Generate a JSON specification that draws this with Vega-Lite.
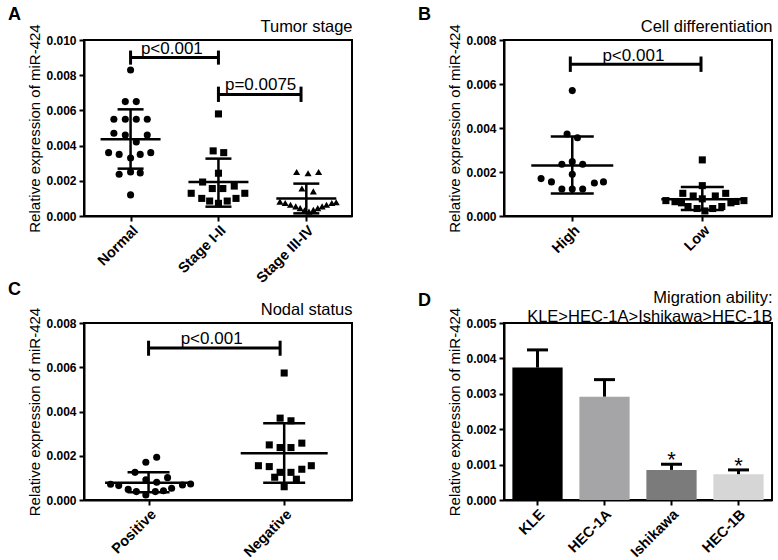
{
  "$schema": "https://vega.github.io/schema/vega-lite/v6.json",
  "padding": {"left": 7, "top": 5, "right": 5, "bottom": 3},
  "config": {
    "font": "Liberation Sans",
    "view": {"stroke": "black", "strokeWidth": 2},
    "axis": {"domainColor": "black", "domainWidth": 2, "tickColor": "black", "tickWidth": 2, "labelColor": "black", "titleColor": "black", "grid": false},
    "axisX": {"labelAngle": -45, "labelFontSize": 14.5, "labelFontWeight": "bold", "tickSize": 5, "labelPadding": 2},
    "title": {"fontSize": 18, "fontWeight": "bold", "anchor": "start", "frame": "group", "color": "black"}
  },
  "resolve": {"scale": {"shape": "independent", "color": "independent"}},
  "datasets": {
    "ptsA": [
      {"g": "Normal", "x": 1.0, "v": 0.0083},
      {"g": "Normal", "x": 0.94, "v": 0.0065},
      {"g": "Normal", "x": 1.065, "v": 0.0065},
      {"g": "Normal", "x": 0.81, "v": 0.0055},
      {"g": "Normal", "x": 0.94, "v": 0.0055},
      {"g": "Normal", "x": 1.065, "v": 0.0055},
      {"g": "Normal", "x": 1.19, "v": 0.0055},
      {"g": "Normal", "x": 0.81, "v": 0.0047},
      {"g": "Normal", "x": 0.94, "v": 0.0046},
      {"g": "Normal", "x": 1.065, "v": 0.0042},
      {"g": "Normal", "x": 1.19, "v": 0.0046},
      {"g": "Normal", "x": 0.75, "v": 0.0036},
      {"g": "Normal", "x": 0.87, "v": 0.0035},
      {"g": "Normal", "x": 1.11, "v": 0.0035},
      {"g": "Normal", "x": 1.23, "v": 0.0036},
      {"g": "Normal", "x": 1.0, "v": 0.0033},
      {"g": "Normal", "x": 0.87, "v": 0.00237},
      {"g": "Normal", "x": 1.0, "v": 0.0025},
      {"g": "Normal", "x": 1.11, "v": 0.00245},
      {"g": "Normal", "x": 1.0, "v": 0.0012},
      {"g": "Stage I-II", "x": 2.0, "v": 0.0058},
      {"g": "Stage I-II", "x": 1.94, "v": 0.0037},
      {"g": "Stage I-II", "x": 2.06, "v": 0.0036},
      {"g": "Stage I-II", "x": 2.0, "v": 0.00243},
      {"g": "Stage I-II", "x": 1.82, "v": 0.00193},
      {"g": "Stage I-II", "x": 2.18, "v": 0.0017},
      {"g": "Stage I-II", "x": 1.93, "v": 0.00156},
      {"g": "Stage I-II", "x": 2.05, "v": 0.00156},
      {"g": "Stage I-II", "x": 1.69, "v": 0.00129},
      {"g": "Stage I-II", "x": 1.81, "v": 0.001},
      {"g": "Stage I-II", "x": 1.9, "v": 0.00085},
      {"g": "Stage I-II", "x": 2.0, "v": 0.00072},
      {"g": "Stage I-II", "x": 2.1, "v": 0.00085},
      {"g": "Stage I-II", "x": 2.2, "v": 0.001},
      {"g": "Stage I-II", "x": 2.3, "v": 0.00129},
      {"g": "Stage III-IV", "x": 2.89, "v": 0.0025},
      {"g": "Stage III-IV", "x": 3.02, "v": 0.00243},
      {"g": "Stage III-IV", "x": 3.14, "v": 0.0025},
      {"g": "Stage III-IV", "x": 2.95, "v": 0.00156},
      {"g": "Stage III-IV", "x": 3.08, "v": 0.0014},
      {"g": "Stage III-IV", "x": 2.7, "v": 0.00082},
      {"g": "Stage III-IV", "x": 2.76, "v": 0.00074},
      {"g": "Stage III-IV", "x": 2.82, "v": 0.00064},
      {"g": "Stage III-IV", "x": 2.88, "v": 0.00055},
      {"g": "Stage III-IV", "x": 2.93, "v": 0.00045},
      {"g": "Stage III-IV", "x": 2.98, "v": 0.00033},
      {"g": "Stage III-IV", "x": 3.03, "v": 0.00025},
      {"g": "Stage III-IV", "x": 3.08, "v": 0.00035},
      {"g": "Stage III-IV", "x": 3.13, "v": 0.00045},
      {"g": "Stage III-IV", "x": 3.18, "v": 0.00055},
      {"g": "Stage III-IV", "x": 3.23, "v": 0.00064},
      {"g": "Stage III-IV", "x": 3.29, "v": 0.00074},
      {"g": "Stage III-IV", "x": 3.34, "v": 0.00078}
    ],
    "sumA": [
      {"x": 1, "mean": 0.00436, "lo": 0.00269, "hi": 0.00606},
      {"x": 2, "mean": 0.00193, "lo": 0.00053, "hi": 0.00326},
      {"x": 3, "mean": 0.00099, "lo": 0.00015, "hi": 0.00184}
    ],
    "brA": [{"x1": 1, "x2": 2, "y": 0.009}, {"x1": 2, "x2": 2.94, "y": 0.0069}],
    "capA": [
      {"x": 1, "lo": 0.0086, "hi": 0.0094},
      {"x": 2, "lo": 0.0086, "hi": 0.0094},
      {"x": 2, "lo": 0.00648, "hi": 0.00735},
      {"x": 2.94, "lo": 0.00648, "hi": 0.00735}
    ],
    "labA": [{"x": 1.47, "y": 0.00919, "label": "p<0.001"}, {"x": 2.48, "y": 0.00716, "label": "p=0.0075"}],
    "ptsB": [
      {"g": "High", "x": 1.0, "v": 0.0057},
      {"g": "High", "x": 0.96, "v": 0.00373},
      {"g": "High", "x": 1.04, "v": 0.00356},
      {"g": "High", "x": 0.92, "v": 0.00235},
      {"g": "High", "x": 1.0, "v": 0.00247},
      {"g": "High", "x": 1.08, "v": 0.00235},
      {"g": "High", "x": 1.0, "v": 0.0019},
      {"g": "High", "x": 0.76, "v": 0.0017},
      {"g": "High", "x": 0.84, "v": 0.00155},
      {"g": "High", "x": 1.17, "v": 0.0015},
      {"g": "High", "x": 1.24, "v": 0.00155},
      {"g": "High", "x": 0.92, "v": 0.00123},
      {"g": "High", "x": 1.0, "v": 0.00123},
      {"g": "High", "x": 1.08, "v": 0.00123},
      {"g": "Low", "x": 2.0, "v": 0.00255},
      {"g": "Low", "x": 2.0, "v": 0.00138},
      {"g": "Low", "x": 1.85, "v": 0.00103},
      {"g": "Low", "x": 1.93, "v": 0.00091},
      {"g": "Low", "x": 2.1, "v": 0.00091},
      {"g": "Low", "x": 2.18, "v": 0.00103},
      {"g": "Low", "x": 2.0, "v": 0.00078},
      {"g": "Low", "x": 1.72, "v": 0.0007},
      {"g": "Low", "x": 1.79, "v": 0.00065},
      {"g": "Low", "x": 1.84, "v": 0.0006},
      {"g": "Low", "x": 2.22, "v": 0.0006},
      {"g": "Low", "x": 2.26, "v": 0.00066},
      {"g": "Low", "x": 2.32, "v": 0.0007},
      {"g": "Low", "x": 1.89, "v": 0.00043},
      {"g": "Low", "x": 1.96, "v": 0.00034},
      {"g": "Low", "x": 2.02, "v": 0.00023},
      {"g": "Low", "x": 2.08, "v": 0.00034},
      {"g": "Low", "x": 2.15, "v": 0.00043}
    ],
    "sumB": [
      {"x": 1, "mean": 0.0023, "lo": 0.00102, "hi": 0.00361},
      {"x": 2, "mean": 0.00076, "lo": 0.00027, "hi": 0.00132}
    ],
    "brB": [{"x1": 0.985, "x2": 1.99, "y": 0.0069}],
    "capB": [{"x": 0.985, "lo": 0.00655, "hi": 0.00725}, {"x": 1.99, "lo": 0.00655, "hi": 0.00725}],
    "labB": [{"x": 1.47, "y": 0.00705, "label": "p<0.001"}],
    "ptsC": [
      {"g": "Positive", "x": 1.06, "v": 0.00193},
      {"g": "Positive", "x": 0.98, "v": 0.00171},
      {"g": "Positive", "x": 0.9, "v": 0.00125},
      {"g": "Positive", "x": 0.98, "v": 0.00091},
      {"g": "Positive", "x": 1.14, "v": 0.00101},
      {"g": "Positive", "x": 1.06, "v": 0.0008},
      {"g": "Positive", "x": 0.72, "v": 0.00071},
      {"g": "Positive", "x": 0.78, "v": 0.00065},
      {"g": "Positive", "x": 1.25, "v": 0.00068},
      {"g": "Positive", "x": 1.31, "v": 0.00072},
      {"g": "Positive", "x": 0.85, "v": 0.00048},
      {"g": "Positive", "x": 0.91, "v": 0.00038},
      {"g": "Positive", "x": 0.98, "v": 0.00023},
      {"g": "Positive", "x": 1.05, "v": 0.00038},
      {"g": "Positive", "x": 1.11, "v": 0.00042},
      {"g": "Positive", "x": 1.17, "v": 0.00053},
      {"g": "Negative", "x": 2.0, "v": 0.00574},
      {"g": "Negative", "x": 1.97, "v": 0.0037},
      {"g": "Negative", "x": 2.05, "v": 0.00358},
      {"g": "Negative", "x": 1.89, "v": 0.00249},
      {"g": "Negative", "x": 1.97, "v": 0.00237},
      {"g": "Negative", "x": 2.05, "v": 0.00237},
      {"g": "Negative", "x": 2.13, "v": 0.00257},
      {"g": "Negative", "x": 1.81, "v": 0.00155},
      {"g": "Negative", "x": 1.89, "v": 0.00151},
      {"g": "Negative", "x": 2.13, "v": 0.00139},
      {"g": "Negative", "x": 2.2, "v": 0.00155},
      {"g": "Negative", "x": 1.97, "v": 0.00125},
      {"g": "Negative", "x": 2.05, "v": 0.00125},
      {"g": "Negative", "x": 1.93, "v": 0.00103},
      {"g": "Negative", "x": 2.09, "v": 0.00094},
      {"g": "Negative", "x": 2.0, "v": 0.0006}
    ],
    "sumC": [
      {"x": 1, "mean": 0.00078, "lo": 0.00035, "hi": 0.00125},
      {"x": 2, "mean": 0.00211, "lo": 0.00078, "hi": 0.00347}
    ],
    "brC": [{"x1": 1, "x2": 1.97, "y": 0.00687}],
    "capC": [{"x": 1, "lo": 0.00652, "hi": 0.0072}, {"x": 1.97, "lo": 0.00652, "hi": 0.0072}],
    "labC": [{"x": 1.465, "y": 0.00705, "label": "p<0.001"}],
    "barsD": [
      {"c": "KLE", "v": 0.00374, "hi": 0.00424},
      {"c": "HEC-1A", "v": 0.00292, "hi": 0.0034},
      {"c": "Ishikawa", "v": 0.00085, "hi": 0.00101},
      {"c": "HEC-1B", "v": 0.00073, "hi": 0.00085}
    ],
    "starsD": [{"c": "Ishikawa", "y": 0.00092, "s": "*"}, {"c": "HEC-1B", "y": 0.00076, "s": "*"}]
  },
  "columns": 2,
  "bounds": "flush",
  "spacing": {"row": 107, "column": 152},
  "concat": [
    {
      "width": 268, "height": 176,
      "title": {"text": "A", "dx": -76, "offset": -6},
      "resolve": {"axis": {"x": "independent", "y": "independent"}},
      "layer": [
        {
          "data": {"name": "ptsA"},
          "mark": {"type": "point", "filled": true, "opacity": 1, "size": 50, "color": "black"},
          "encoding": {
            "x": {"field": "x", "type": "quantitative", "scale": {"domain": [0.47, 3.52], "nice": false, "zero": false}, "axis": {"values": [1, 2, 3], "labelExpr": "datum.value == 1 ? 'Normal' : datum.value == 2 ? 'Stage I-II' : 'Stage III-IV'", "title": null}},
            "y": {"field": "v", "type": "quantitative", "scale": {"domain": [0, 0.01], "nice": false}, "axis": {"values": [0, 0.002, 0.004, 0.006, 0.008, 0.01], "format": ".3f", "labelFontSize": 12, "labelFontWeight": "bold", "labelPadding": 3, "tickSize": 5, "labelOverlap": false, "title": "Relative expression of miR-424", "titleFontSize": 15, "titleFontWeight": "normal", "titlePadding": 3}},
            "shape": {"field": "g", "type": "nominal", "scale": {"domain": ["Normal", "Stage I-II", "Stage III-IV"], "range": ["circle", "square", "triangle-up"]}, "legend": null}
          }
        },
        {
          "data": {"name": "sumA"},
          "layer": [
            {"mark": {"type": "rule", "strokeWidth": 2.5, "color": "black"}, "encoding": {"x": {"field": "x", "type": "quantitative", "scale": {"domain": [0.47, 3.52], "nice": false, "zero": false}, "axis": null}, "y": {"field": "lo", "type": "quantitative", "scale": {"domain": [0, 0.01], "nice": false}, "axis": null}, "y2": {"field": "hi"}}},
            {"mark": {"type": "tick", "orient": "horizontal", "size": 60, "thickness": 2.5, "color": "black", "opacity": 1}, "encoding": {"x": {"field": "x", "type": "quantitative", "scale": {"domain": [0.47, 3.52], "nice": false, "zero": false}, "axis": null}, "y": {"field": "mean", "type": "quantitative", "scale": {"domain": [0, 0.01], "nice": false}, "axis": null}}},
            {"mark": {"type": "tick", "orient": "horizontal", "size": 26, "thickness": 2.5, "color": "black", "opacity": 1}, "encoding": {"x": {"field": "x", "type": "quantitative", "scale": {"domain": [0.47, 3.52], "nice": false, "zero": false}, "axis": null}, "y": {"field": "lo", "type": "quantitative", "scale": {"domain": [0, 0.01], "nice": false}, "axis": null}}},
            {"mark": {"type": "tick", "orient": "horizontal", "size": 26, "thickness": 2.5, "color": "black", "opacity": 1}, "encoding": {"x": {"field": "x", "type": "quantitative", "scale": {"domain": [0.47, 3.52], "nice": false, "zero": false}, "axis": null}, "y": {"field": "hi", "type": "quantitative", "scale": {"domain": [0, 0.01], "nice": false}, "axis": null}}}
          ]
        },
        {
          "data": {"name": "brA"},
          "mark": {"type": "rule", "strokeWidth": 3, "color": "black"},
          "encoding": {
            "x": {"field": "x1", "type": "quantitative", "scale": {"domain": [0.47, 3.52], "nice": false, "zero": false}, "axis": {"orient": "top", "title": "Tumor stage", "labels": false, "ticks": false, "domain": false, "titleAnchor": "end", "titleFontSize": 16.5, "titleFontWeight": "normal", "titlePadding": 6}},
            "x2": {"field": "x2"},
            "y": {"field": "y", "type": "quantitative", "scale": {"domain": [0, 0.01], "nice": false}, "axis": null}
          }
        },
        {
          "data": {"name": "capA"},
          "mark": {"type": "rule", "strokeWidth": 3, "color": "black"},
          "encoding": {
            "x": {"field": "x", "type": "quantitative", "scale": {"domain": [0.47, 3.52], "nice": false, "zero": false}, "axis": null},
            "y": {"field": "lo", "type": "quantitative", "scale": {"domain": [0, 0.01], "nice": false}, "axis": null},
            "y2": {"field": "hi"}
          }
        },
        {
          "data": {"name": "labA"},
          "mark": {"type": "text", "fontSize": 17, "baseline": "alphabetic", "align": "center", "color": "black"},
          "encoding": {
            "x": {"field": "x", "type": "quantitative", "scale": {"domain": [0.47, 3.52], "nice": false, "zero": false}, "axis": null},
            "y": {"field": "y", "type": "quantitative", "scale": {"domain": [0, 0.01], "nice": false}, "axis": null},
            "text": {"field": "label"}
          }
        }
      ]
    },
    {
      "width": 268, "height": 176,
      "title": {"text": "B", "dx": -86, "offset": -6},
      "resolve": {"axis": {"x": "independent", "y": "independent"}},
      "layer": [
        {
          "data": {"name": "ptsB"},
          "mark": {"type": "point", "filled": true, "opacity": 1, "size": 50, "color": "black"},
          "encoding": {
            "x": {"field": "x", "type": "quantitative", "scale": {"domain": [0.475, 2.536], "nice": false, "zero": false}, "axis": {"values": [1, 2], "labelExpr": "datum.value == 1 ? 'High' : 'Low'", "title": null}},
            "y": {"field": "v", "type": "quantitative", "scale": {"domain": [0, 0.008], "nice": false}, "axis": {"values": [0, 0.002, 0.004, 0.006, 0.008], "format": ".3f", "labelFontSize": 12, "labelFontWeight": "bold", "labelPadding": 3, "tickSize": 5, "labelOverlap": false, "title": "Relative expression of miR-424", "titleFontSize": 15, "titleFontWeight": "normal", "titlePadding": 3}},
            "shape": {"field": "g", "type": "nominal", "scale": {"domain": ["High", "Low"], "range": ["circle", "square"]}, "legend": null}
          }
        },
        {
          "data": {"name": "sumB"},
          "layer": [
            {"mark": {"type": "rule", "strokeWidth": 2.5, "color": "black"}, "encoding": {"x": {"field": "x", "type": "quantitative", "scale": {"domain": [0.475, 2.536], "nice": false, "zero": false}, "axis": null}, "y": {"field": "lo", "type": "quantitative", "scale": {"domain": [0, 0.008], "nice": false}, "axis": null}, "y2": {"field": "hi"}}},
            {"mark": {"type": "tick", "orient": "horizontal", "size": 82, "thickness": 2.5, "color": "black", "opacity": 1}, "encoding": {"x": {"field": "x", "type": "quantitative", "scale": {"domain": [0.475, 2.536], "nice": false, "zero": false}, "axis": null}, "y": {"field": "mean", "type": "quantitative", "scale": {"domain": [0, 0.008], "nice": false}, "axis": null}}},
            {"mark": {"type": "tick", "orient": "horizontal", "size": 43, "thickness": 2.5, "color": "black", "opacity": 1}, "encoding": {"x": {"field": "x", "type": "quantitative", "scale": {"domain": [0.475, 2.536], "nice": false, "zero": false}, "axis": null}, "y": {"field": "lo", "type": "quantitative", "scale": {"domain": [0, 0.008], "nice": false}, "axis": null}}},
            {"mark": {"type": "tick", "orient": "horizontal", "size": 43, "thickness": 2.5, "color": "black", "opacity": 1}, "encoding": {"x": {"field": "x", "type": "quantitative", "scale": {"domain": [0.475, 2.536], "nice": false, "zero": false}, "axis": null}, "y": {"field": "hi", "type": "quantitative", "scale": {"domain": [0, 0.008], "nice": false}, "axis": null}}}
          ]
        },
        {
          "data": {"name": "brB"},
          "mark": {"type": "rule", "strokeWidth": 3, "color": "black"},
          "encoding": {
            "x": {"field": "x1", "type": "quantitative", "scale": {"domain": [0.475, 2.536], "nice": false, "zero": false}, "axis": {"orient": "top", "title": "Cell differentiation", "labels": false, "ticks": false, "domain": false, "titleAnchor": "end", "titleFontSize": 16.5, "titleFontWeight": "normal", "titlePadding": 6}},
            "x2": {"field": "x2"},
            "y": {"field": "y", "type": "quantitative", "scale": {"domain": [0, 0.008], "nice": false}, "axis": null}
          }
        },
        {
          "data": {"name": "capB"},
          "mark": {"type": "rule", "strokeWidth": 3, "color": "black"},
          "encoding": {
            "x": {"field": "x", "type": "quantitative", "scale": {"domain": [0.475, 2.536], "nice": false, "zero": false}, "axis": null},
            "y": {"field": "lo", "type": "quantitative", "scale": {"domain": [0, 0.008], "nice": false}, "axis": null},
            "y2": {"field": "hi"}
          }
        },
        {
          "data": {"name": "labB"},
          "mark": {"type": "text", "fontSize": 17, "baseline": "alphabetic", "align": "center", "color": "black"},
          "encoding": {
            "x": {"field": "x", "type": "quantitative", "scale": {"domain": [0.475, 2.536], "nice": false, "zero": false}, "axis": null},
            "y": {"field": "y", "type": "quantitative", "scale": {"domain": [0, 0.008], "nice": false}, "axis": null},
            "text": {"field": "label"}
          }
        }
      ]
    },
    {
      "width": 268, "height": 177,
      "title": {"text": "C", "dx": -76, "offset": 1.6},
      "resolve": {"axis": {"x": "independent", "y": "independent"}},
      "layer": [
        {
          "data": {"name": "ptsC"},
          "mark": {"type": "point", "filled": true, "opacity": 1, "size": 50, "color": "black"},
          "encoding": {
            "x": {"field": "x", "type": "quantitative", "scale": {"domain": [0.524, 2.5], "nice": false, "zero": false}, "axis": {"values": [1, 2], "labelExpr": "datum.value == 1 ? 'Positive' : 'Negative'", "title": null}},
            "y": {"field": "v", "type": "quantitative", "scale": {"domain": [0, 0.008], "nice": false}, "axis": {"values": [0, 0.002, 0.004, 0.006, 0.008], "format": ".3f", "labelFontSize": 12, "labelFontWeight": "bold", "labelPadding": 3, "tickSize": 5, "labelOverlap": false, "title": "Relative expression of miR-424", "titleFontSize": 15, "titleFontWeight": "normal", "titlePadding": 3}},
            "shape": {"field": "g", "type": "nominal", "scale": {"domain": ["Positive", "Negative"], "range": ["circle", "square"]}, "legend": null}
          }
        },
        {
          "data": {"name": "sumC"},
          "layer": [
            {"mark": {"type": "rule", "strokeWidth": 2.5, "color": "black"}, "encoding": {"x": {"field": "x", "type": "quantitative", "scale": {"domain": [0.524, 2.5], "nice": false, "zero": false}, "axis": null}, "y": {"field": "lo", "type": "quantitative", "scale": {"domain": [0, 0.008], "nice": false}, "axis": null}, "y2": {"field": "hi"}}},
            {"mark": {"type": "tick", "orient": "horizontal", "size": 87, "thickness": 2.5, "color": "black", "opacity": 1}, "encoding": {"x": {"field": "x", "type": "quantitative", "scale": {"domain": [0.524, 2.5], "nice": false, "zero": false}, "axis": null}, "y": {"field": "mean", "type": "quantitative", "scale": {"domain": [0, 0.008], "nice": false}, "axis": null}}},
            {"mark": {"type": "tick", "orient": "horizontal", "size": 42, "thickness": 2.5, "color": "black", "opacity": 1}, "encoding": {"x": {"field": "x", "type": "quantitative", "scale": {"domain": [0.524, 2.5], "nice": false, "zero": false}, "axis": null}, "y": {"field": "lo", "type": "quantitative", "scale": {"domain": [0, 0.008], "nice": false}, "axis": null}}},
            {"mark": {"type": "tick", "orient": "horizontal", "size": 42, "thickness": 2.5, "color": "black", "opacity": 1}, "encoding": {"x": {"field": "x", "type": "quantitative", "scale": {"domain": [0.524, 2.5], "nice": false, "zero": false}, "axis": null}, "y": {"field": "hi", "type": "quantitative", "scale": {"domain": [0, 0.008], "nice": false}, "axis": null}}}
          ]
        },
        {
          "data": {"name": "brC"},
          "mark": {"type": "rule", "strokeWidth": 3, "color": "black"},
          "encoding": {
            "x": {"field": "x1", "type": "quantitative", "scale": {"domain": [0.524, 2.5], "nice": false, "zero": false}, "axis": {"orient": "top", "title": "Nodal status", "labels": false, "ticks": false, "domain": false, "titleAnchor": "end", "titleFontSize": 16.5, "titleFontWeight": "normal", "titlePadding": 6}},
            "x2": {"field": "x2"},
            "y": {"field": "y", "type": "quantitative", "scale": {"domain": [0, 0.008], "nice": false}, "axis": null}
          }
        },
        {
          "data": {"name": "capC"},
          "mark": {"type": "rule", "strokeWidth": 3, "color": "black"},
          "encoding": {
            "x": {"field": "x", "type": "quantitative", "scale": {"domain": [0.524, 2.5], "nice": false, "zero": false}, "axis": null},
            "y": {"field": "lo", "type": "quantitative", "scale": {"domain": [0, 0.008], "nice": false}, "axis": null},
            "y2": {"field": "hi"}
          }
        },
        {
          "data": {"name": "labC"},
          "mark": {"type": "text", "fontSize": 17, "baseline": "alphabetic", "align": "center", "color": "black"},
          "encoding": {
            "x": {"field": "x", "type": "quantitative", "scale": {"domain": [0.524, 2.5], "nice": false, "zero": false}, "axis": null},
            "y": {"field": "y", "type": "quantitative", "scale": {"domain": [0, 0.008], "nice": false}, "axis": null},
            "text": {"field": "label"}
          }
        }
      ]
    },
    {
      "width": 268, "height": 177,
      "title": {"text": "D", "dx": -86, "offset": -20.8},
      "resolve": {"axis": {"x": "independent", "y": "independent"}},
      "data": {"name": "barsD"},
      "layer": [
        {
          "mark": {"type": "bar"},
          "encoding": {
            "x": {"field": "c", "type": "nominal", "sort": null, "scale": {"domain": ["KLE", "HEC-1A", "Ishikawa", "HEC-1B"], "paddingInner": 0.25, "paddingOuter": 0.125}, "axis": {"title": null}},
            "y": {"field": "v", "type": "quantitative", "scale": {"domain": [0, 0.005], "nice": false}, "axis": {"values": [0, 0.001, 0.002, 0.003, 0.004, 0.005], "format": ".3f", "labelFontSize": 12, "labelFontWeight": "bold", "labelPadding": 3, "tickSize": 5, "labelOverlap": false, "title": "Relative expression of miR-424", "titleFontSize": 15, "titleFontWeight": "normal", "titlePadding": 3}},
            "color": {"field": "c", "type": "nominal", "scale": {"domain": ["KLE", "HEC-1A", "Ishikawa", "HEC-1B"], "range": ["#000000", "#a5a5a8", "#7b7b7b", "#d6d6d6"]}, "legend": null}
          }
        },
        {
          "mark": {"type": "rule", "strokeWidth": 3, "color": "black"},
          "encoding": {
            "x": {"field": "c", "type": "nominal", "sort": null, "scale": {"domain": ["KLE", "HEC-1A", "Ishikawa", "HEC-1B"], "paddingInner": 0.25, "paddingOuter": 0.125}, "axis": {"orient": "top", "title": ["Migration ability:", "KLE>HEC-1A>Ishikawa>HEC-1B"], "labels": false, "ticks": false, "domain": false, "titleAnchor": "end", "titleFontSize": 16.5, "titleFontWeight": "normal", "titleLineHeight": 19, "titlePadding": -1.2}},
            "y": {"field": "v", "type": "quantitative", "scale": {"domain": [0, 0.005], "nice": false}, "axis": null},
            "y2": {"field": "hi"}
          }
        },
        {
          "mark": {"type": "tick", "orient": "horizontal", "size": 21, "thickness": 3, "color": "black", "opacity": 1},
          "encoding": {
            "x": {"field": "c", "type": "nominal", "sort": null, "scale": {"domain": ["KLE", "HEC-1A", "Ishikawa", "HEC-1B"], "paddingInner": 0.25, "paddingOuter": 0.125}, "axis": null},
            "y": {"field": "hi", "type": "quantitative", "scale": {"domain": [0, 0.005], "nice": false}, "axis": null}
          }
        },
        {
          "data": {"name": "starsD"},
          "mark": {"type": "text", "fontSize": 22, "baseline": "alphabetic", "align": "center", "color": "black"},
          "encoding": {
            "x": {"field": "c", "type": "nominal", "sort": null, "scale": {"domain": ["KLE", "HEC-1A", "Ishikawa", "HEC-1B"], "paddingInner": 0.25, "paddingOuter": 0.125}, "axis": null},
            "y": {"field": "y", "type": "quantitative", "scale": {"domain": [0, 0.005], "nice": false}, "axis": null},
            "text": {"field": "s"}
          }
        }
      ]
    }
  ]
}
